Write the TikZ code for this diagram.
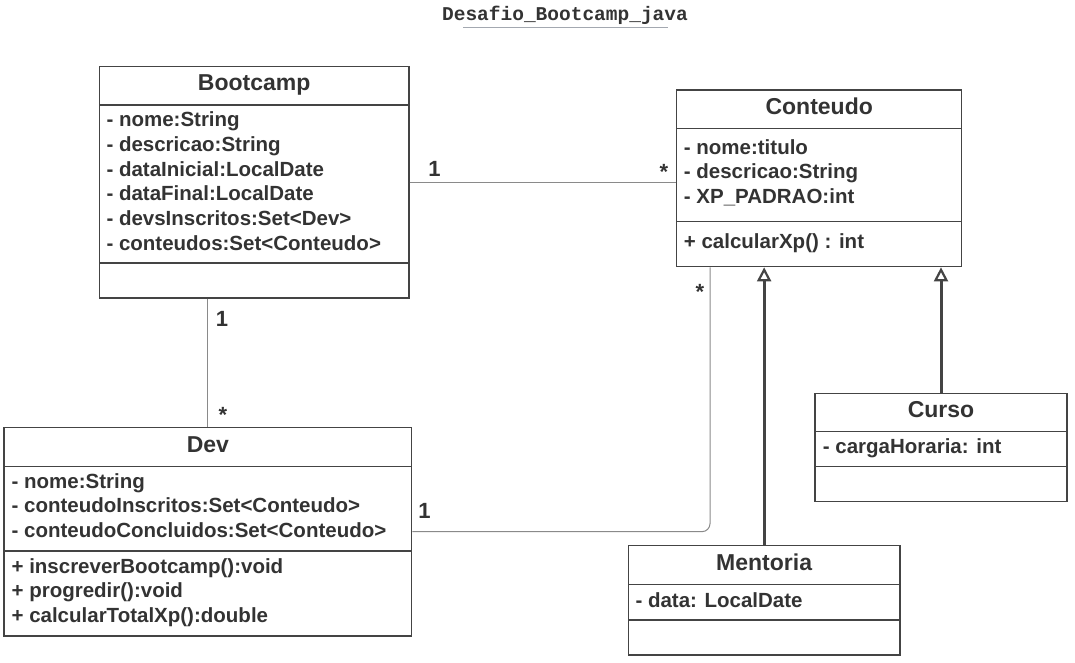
\documentclass[tikz,border=0pt]{standalone}
\usepackage{fontspec}
\setmainfont{Liberation Sans}
\setmonofont{Liberation Mono}
\usetikzlibrary{arrows.meta}
\definecolor{ink}{HTML}{333333}
\definecolor{edge}{HTML}{444444}
\definecolor{thinline}{HTML}{8A8A8A}
\definecolor{uline}{HTML}{A3A8B0}
\begin{document}
\begin{tikzpicture}[x=1pt,y=-1pt,
  classbox/.style={draw=edge, line width=1.3pt, rectangle, inner sep=0pt},
  sepline/.style={draw=edge, line width=1.3pt},
  head/.style={anchor=base, inner sep=0pt, text=ink, font=\fontsize{23}{27}\selectfont\bfseries},
  attr/.style={anchor=base west, inner sep=0pt, text=ink, font=\fontsize{20.5}{24}\selectfont\bfseries},
  mult/.style={anchor=base, inner sep=0pt, text=ink, font=\fontsize{22}{26}\selectfont\bfseries},
  assoc/.style={draw=thinline, line width=1pt},
  inh/.style={draw=edge, line width=3pt, -{Triangle[open, length=14pt, width=14pt, line width=2.2pt]}}
]
\useasboundingbox (0,0) rectangle (1075,663);

% title
\node[anchor=base, inner sep=0pt, text=ink, font=\fontsize{19.5}{22}\selectfont\ttfamily\bfseries] (title) at (565,20.7) {Desafio\_Bootcamp\_java};
\coordinate (ulA) at (463,27.3);
\coordinate (ulB) at (668,27.3);
\draw[draw=uline, line width=1pt] (ulA) -- (ulB);

% Bootcamp
\node[classbox, minimum width=309.7pt, minimum height=231.3pt] (bootcamp) at (254.15,182.35) {};
\draw[sepline] (99.3,105) -- (409,105);
\draw[sepline] (99.3,263) -- (409,263);
\node[head] (bh) at (254.15,91) {Bootcamp};
\node[attr] (b1) at (106.3,126.7) {- nome:String};
\node[attr] (b2) at (106.3,151.4) {- descricao:String};
\node[attr] (b3) at (106.3,176.0) {- dataInicial:LocalDate};
\node[attr] (b4) at (106.3,200.7) {- dataFinal:LocalDate};
\node[attr] (b5) at (106.3,225.3) {- devsInscritos:Set<Dev>};
\node[attr] (b6) at (106.3,250.0) {- conteudos:Set<Conteudo>};

% Conteudo
\node[classbox, minimum width=285pt, minimum height=176.7pt] (conteudo) at (819.2,178.35) {};
\draw[sepline] (676.7,128.3) -- (961.7,128.3);
\draw[sepline] (676.7,221.7) -- (961.7,221.7);
\node[head] (ch) at (819.2,114.3) {Conteudo};
\node[attr] (c1) at (683.7,154.3) {- nome:titulo};
\node[attr] (c2) at (683.7,178.8) {- descricao:String};
\node[attr] (c3) at (683.7,203.3) {- XP\_PADRAO:int};
\node[attr] (c4) at (683.7,248.3) {+ calcularXp() : int};

% Dev
\node[classbox, minimum width=407.7pt, minimum height=208.7pt] (dev) at (207.85,531.65) {};
\draw[sepline] (4,466.7) -- (411.7,466.7);
\draw[sepline] (4,551) -- (411.7,551);
\node[head] (dh) at (207.85,452.7) {Dev};
\node[attr] (d1) at (11.4,488.0) {- nome:String};
\node[attr] (d2) at (11.4,512.6) {- conteudoInscritos:Set<Conteudo>};
\node[attr] (d3) at (11.4,537.2) {- conteudoConcluidos:Set<Conteudo>};
\node[attr] (d4) at (11.4,573.0) {+ inscreverBootcamp():void};
\node[attr] (d5) at (11.4,597.6) {+ progredir():void};
\node[attr] (d6) at (11.4,622.2) {+ calcularTotalXp():double};

% Curso
\node[classbox, minimum width=252pt, minimum height=108.4pt] (curso) at (941,447.5) {};
\draw[sepline] (815,431.7) -- (1067,431.7);
\draw[sepline] (815,466.7) -- (1067,466.7);
\node[head] (kh) at (941,417.3) {Curso};
\node[attr] (k1) at (822.7,453.5) {- cargaHoraria: int};

% Mentoria
\node[classbox, minimum width=271.7pt, minimum height=109.3pt] (mentoria) at (764.15,600.35) {};
\draw[sepline] (628.3,584.3) -- (900,584.3);
\draw[sepline] (628.3,620) -- (900,620);
\node[head] (mh) at (764.15,570) {Mentoria};
\node[attr] (m1) at (635.3,607) {- data: LocalDate};

% associations
\draw[assoc] (bootcamp.east) -- (bootcamp.east -| conteudo.west);
\draw[assoc] (dev.north |- bootcamp.south) -- (dev.north);
\coordinate (bend) at (710,531.65);
\draw[assoc, rounded corners=8pt] (dev.east) -- (bend) -- (bend |- conteudo.south);

% multiplicities
\node[mult] (m1a) at (434.5,176) {1};
\node[mult] (m1b) at (663.8,179) {*};
\node[mult] (m2a) at (222,326) {1};
\node[mult] (m2b) at (223,422.5) {*};
\node[mult] (m3a) at (424.5,518) {1};
\node[mult] (m3b) at (700,299.3) {*};

% inheritance
\draw[inh] (mentoria.north) -- (mentoria.north |- conteudo.south);
\draw[inh] (curso.north) -- (curso.north |- conteudo.south);
\end{tikzpicture}
\end{document}
